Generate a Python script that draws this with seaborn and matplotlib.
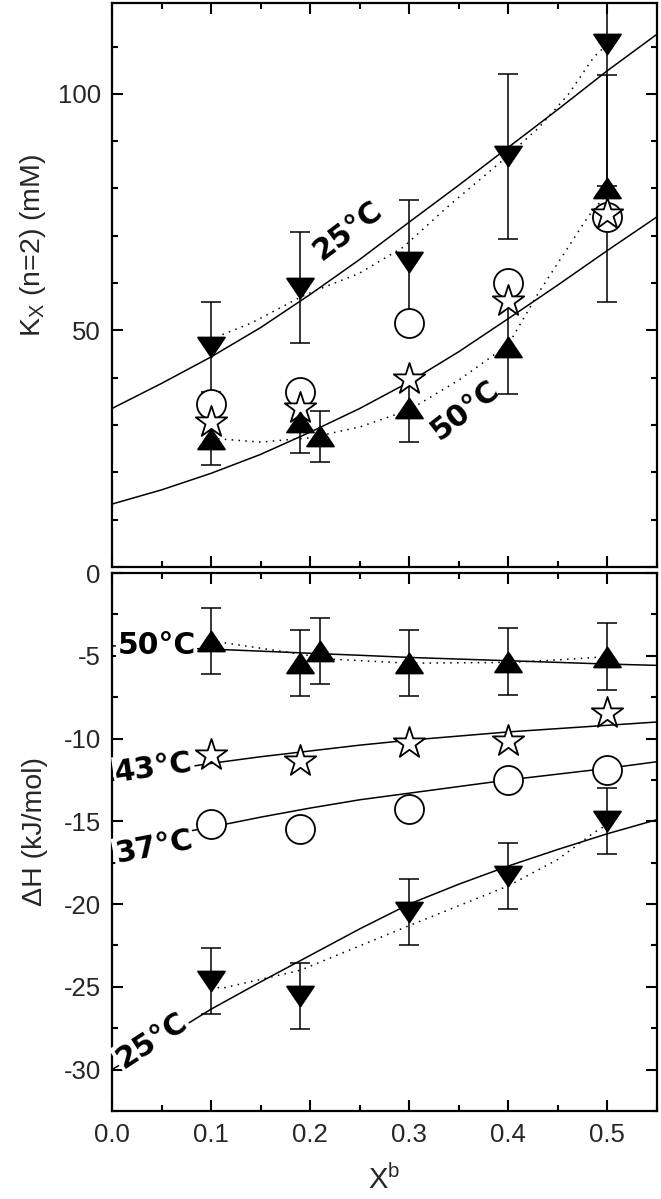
import numpy as np
import pandas as pd
import matplotlib
matplotlib.use('Agg')
import matplotlib.pyplot as plt
import seaborn as sns
from matplotlib.path import Path
from matplotlib.ticker import MultipleLocator

# ---- data ----
x_pts = [0.1, 0.19, 0.3, 0.4, 0.5]
x_50 = [0.1, 0.19, 0.21, 0.3, 0.4, 0.5]

# K_X (n=2) (mM)
kx_25 = [46.5, 59.0, 64.5, 86.8, 110.5]
kx_25_err = [9.5, 11.7, 13.0, 17.4, 30.0]
kx_37 = [34.5, 37.0, 51.6, 60.0, 73.9]
kx_43 = [30.7, 33.5, 39.8, 56.3, 74.6]
kx_50 = [27.0, 30.7, 27.6, 33.5, 46.5, 80.0]
kx_50_err = [5.5, 6.7, 5.4, 7.0, 10.0, 24.0]

# dH (kJ/mol)
dh_25 = [-24.65, -25.55, -20.5, -18.3, -15.0]
dh_25_err = [2.0, 2.0, 2.0, 2.0, 2.0]
dh_37 = [-15.14, -15.44, -14.24, -12.5, -11.88]
dh_43 = [-11.0, -11.34, -10.24, -10.14, -8.44]
dh_50 = [-4.1, -5.45, -4.7, -5.45, -5.35, -5.05]
dh_50_err = [2.0, 2.0, 2.0, 2.0, 2.0, 2.0]

# fitted curves (solid)
fit_x = [0.0, 0.05, 0.1, 0.15, 0.2, 0.25, 0.3, 0.35, 0.4, 0.45, 0.5, 0.55]
kx_fit_25 = [33.5, 38.8, 44.4, 50.6, 57.6, 65.0, 72.9, 80.7, 88.7, 96.7, 104.9, 112.6]
kx_fit_50 = [13.3, 16.3, 19.8, 23.8, 28.5, 33.5, 39.1, 45.5, 52.5, 59.6, 66.9, 74.0]
dh_fit_25 = [-30.0, -28.2, -26.35, -24.7, -23.1, -21.5, -20.0, -18.8, -17.7, -16.7, -15.75, -14.9]
dh_fit_37 = [-16.5, -15.9, -15.35, -14.75, -14.2, -13.7, -13.3, -12.9, -12.5, -12.15, -11.8, -11.4]
dh_fit_43 = [-12.4, -11.95, -11.5, -11.1, -10.75, -10.4, -10.1, -9.85, -9.6, -9.4, -9.2, -9.0]
dh_fit_50 = [-4.4, -4.5, -4.6, -4.72, -4.85, -4.97, -5.1, -5.2, -5.3, -5.4, -5.5, -5.58]

# dotted guide lines
kx_dot_25_x = [0.1, 0.11, 0.14, 0.19, 0.205, 0.249, 0.294, 0.338, 0.394, 0.431, 0.461, 0.486, 0.5]
kx_dot_25 = [47.5, 49.0, 51.5, 57.0, 58.4, 62.0, 67.6, 76.0, 85.9, 92.9, 100.0, 107.7, 110.5]
kx_dot_50_x = [0.1, 0.15, 0.2, 0.25, 0.3, 0.35, 0.4, 0.43, 0.48, 0.5]
kx_dot_50 = [27.2, 26.4, 27.3, 29.6, 33.2, 39.5, 47.0, 57.8, 73.9, 79.0]
dh_dot_25_x = [0.1, 0.11, 0.19, 0.3, 0.4, 0.45, 0.486, 0.5]
dh_dot_25 = [-24.9, -25.1, -24.0, -21.3, -18.9, -17.3, -15.7, -15.2]
dh_dot_50_x = [0.1, 0.19, 0.22, 0.3, 0.4, 0.45, 0.5]
dh_dot_50 = [-4.1, -4.9, -5.2, -5.45, -5.4, -5.25, -5.05]

# ---- style ----
sns.set_theme(style='ticks')
plt.rcParams['font.family'] = ['Liberation Sans', 'DejaVu Sans']
plt.rcParams['mathtext.fontset'] = 'custom'
plt.rcParams['mathtext.rm'] = 'Liberation Sans'
plt.rcParams['mathtext.it'] = 'Liberation Sans:italic'
plt.rcParams['axes.unicode_minus'] = False

tri_up = Path([(-1.35, -1), (1.35, -1), (0, 1), (-1.35, -1)],
              [Path.MOVETO, Path.LINETO, Path.LINETO, Path.CLOSEPOLY])
tri_down = Path([(-1.35, 1), (1.35, 1), (0, -1), (-1.35, 1)],
                [Path.MOVETO, Path.LINETO, Path.LINETO, Path.CLOSEPOLY])

fig = plt.figure(figsize=(6.61, 11.99), dpi=100)
ax1 = fig.add_axes([0.1694, 0.5271, 0.8245, 0.4704])
ax2 = fig.add_axes([0.1694, 0.0734, 0.8245, 0.4487])

lbl_font = dict(family='DejaVu Sans', weight='bold', size=21.5, color='black')


def draw_panel(ax, fits, dots, err_sets, scatters):
    for fx, fy in fits:
        sns.lineplot(x=fx, y=fy, ax=ax, color='black', lw=1.1,
                     estimator=None, sort=False, zorder=2)
    for dx, dy in dots:
        sns.lineplot(x=dx, y=dy, ax=ax, color='black', lw=1.1,
                     estimator=None, sort=False, dashes=False, zorder=2,
                     linestyle=(0, (1, 3.5)))
    for ex, ey, ee in err_sets:
        ax.errorbar(ex, ey, yerr=ee, fmt='none', ecolor='black',
                    elinewidth=1.1, capsize=7, capthick=1.1, zorder=3)
    for sx, sy, mk, sz, fc in scatters:
        sns.scatterplot(x=sx, y=sy, ax=ax, marker=mk, s=sz, color=fc,
                        edgecolor='black', linewidth=1.3, zorder=5)


# top panel
draw_panel(
    ax1,
    fits=[(fit_x, kx_fit_25), (fit_x, kx_fit_50)],
    dots=[(kx_dot_25_x, kx_dot_25), (kx_dot_50_x, kx_dot_50)],
    err_sets=[(x_pts, kx_25, kx_25_err), (x_50, kx_50, kx_50_err)],
    scatters=[(x_pts, kx_37, 'o', 437, 'white'),
              (x_pts, kx_43, '*', 566, 'white'),
              (x_50, kx_50, tri_up, 376, 'black'),
              (x_pts, kx_25, tri_down, 376, 'black')],
)
ax1.text(0.238, 71.0, '25°C', rotation=37, ha='center', va='center',
         rotation_mode='anchor', zorder=6, **lbl_font)
ax1.text(0.357, 33.1, '50°C', rotation=38, ha='center', va='center',
         rotation_mode='anchor', zorder=6, **lbl_font)

# bottom panel
draw_panel(
    ax2,
    fits=[(fit_x, dh_fit_25), (fit_x, dh_fit_37), (fit_x, dh_fit_43), (fit_x, dh_fit_50)],
    dots=[(dh_dot_25_x, dh_dot_25), (dh_dot_50_x, dh_dot_50)],
    err_sets=[(x_pts, dh_25, dh_25_err), (x_50, dh_50, dh_50_err)],
    scatters=[(x_pts, dh_37, 'o', 437, 'white'),
              (x_pts, dh_43, '*', 566, 'white'),
              (x_50, dh_50, tri_up, 376, 'black'),
              (x_pts, dh_25, tri_down, 376, 'black')],
)
box = dict(boxstyle='square,pad=0.05', fc='white', ec='none')
for tx, ty, txt, rot in [(0.045, -4.38, '50°C', 0), (0.042, -11.76, '43°C', 8),
                         (0.042, -16.55, '37°C', 11), (0.04, -28.25, '25°C', 33)]:
    ax2.text(tx, ty, txt, rotation=rot, ha='center', va='center',
             rotation_mode='anchor', bbox=box, zorder=10, clip_on=False,
             **lbl_font)

# axes formatting
for ax in (ax1, ax2):
    ax.set_xlim(0, 0.55)
    ax.xaxis.set_major_locator(MultipleLocator(0.1))
    ax.xaxis.set_minor_locator(MultipleLocator(0.05))
    ax.tick_params(which='both', direction='in', top=True, right=True,
                   width=1.5, color='black', labelsize=18.5, pad=8)
    ax.tick_params(which='major', length=8)
    ax.tick_params(which='minor', length=4.5)
    for sp in ax.spines.values():
        sp.set_linewidth(1.6)
        sp.set_color('black')
    ax.set_xlabel('')
    ax.set_ylabel('')

ax1.set_ylim(0, 119.2)
ax1.yaxis.set_major_locator(MultipleLocator(50))
ax1.yaxis.set_minor_locator(MultipleLocator(10))
ax1.set_yticks([0, 50, 100])
ax1.set_yticklabels(['', '50', '100'])
ax1.tick_params(axis='x', labelbottom=False)

ax2.set_ylim(-32.5, 0)
ax2.yaxis.set_major_locator(MultipleLocator(5))
ax2.yaxis.set_minor_locator(MultipleLocator(2.5))
ax2.set_xticks([0, 0.1, 0.2, 0.3, 0.4, 0.5])
ax2.set_xticklabels(['0.0', '0.1', '0.2', '0.3', '0.4', '0.5'])
ax2.tick_params(axis='x', pad=9)

ax1.set_ylabel(r'K$_{\mathrm{X}}$ (n=2) (mM)', fontsize=20.5)
ax1.yaxis.set_label_coords(-0.117, 0.571)
ax2.set_ylabel('ΔH (kJ/mol)', fontsize=20.5)
ax2.yaxis.set_label_coords(-0.117, 0.519)
ax2.set_xlabel(r'X$^{\mathrm{b}}$', fontsize=21)
ax2.xaxis.set_label_coords(0.5, -0.1)

fig.savefig('out.png', dpi=100)
plt.close(fig)
